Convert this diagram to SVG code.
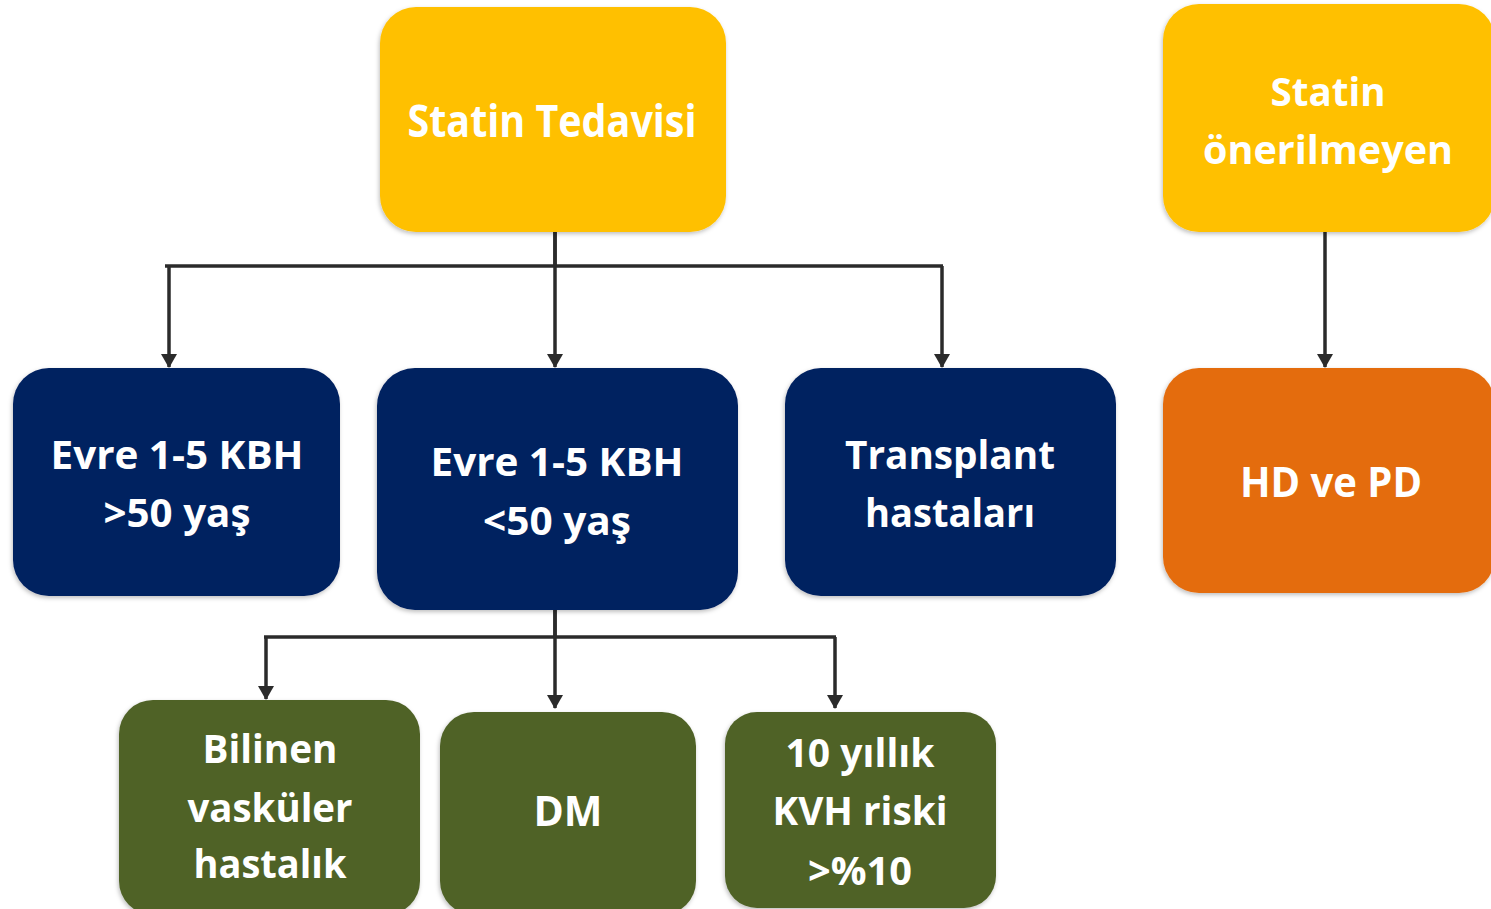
<svg xmlns="http://www.w3.org/2000/svg" width="1491" height="909" viewBox="0 0 1491 909">
<style>
.t{font-family:"Open Sans","Noto Sans","Liberation Sans",sans-serif;font-weight:bold;fill:#ffffff;text-anchor:middle}
.yel{fill:#FFC000}
.navy{fill:#002060}
.grn{fill:#4F6228}
.org{fill:#E46C0E}
.box{filter:url(#sh)}
.ln{stroke:#2b2b2b;stroke-width:3.5;fill:none}
</style>
<defs>
<filter id="sh" x="-5%" y="-5%" width="110%" height="110%">
<feDropShadow dx="-1" dy="2" stdDeviation="2" flood-color="#000" flood-opacity="0.25"/>
</filter>
<marker id="ah" viewBox="0 0 14 16" refX="13" refY="8" markerWidth="14" markerHeight="16" markerUnits="userSpaceOnUse" orient="auto">
<path d="M0,0 L14,8 L0,16 Z" fill="#2b2b2b"/>
</marker>
</defs>
<g id="connectors">
<path class="ln" d="M555,232 V266"/>
<path class="ln" d="M165,266 H943"/>
<path class="ln" d="M169,266 V367" marker-end="url(#ah)"/>
<path class="ln" d="M555,232 V367" marker-end="url(#ah)"/>
<path class="ln" d="M942,266 V367" marker-end="url(#ah)"/>
<path class="ln" d="M1325,232 V367" marker-end="url(#ah)"/>
<path class="ln" d="M555,610 V637"/>
<path class="ln" d="M264,637 H836"/>
<path class="ln" d="M266,637 V699" marker-end="url(#ah)"/>
<path class="ln" d="M555,610 V708" marker-end="url(#ah)"/>
<path class="ln" d="M835,637 V708" marker-end="url(#ah)"/>
</g>
<g id="n-statin">
<rect class="box yel" x="380" y="7" width="346" height="225" rx="36"/>
<text class="t" x="552" y="137" font-size="44" textLength="289" lengthAdjust="spacingAndGlyphs">Statin Tedavisi</text>
</g>
<g id="n-onerilmeyen">
<rect class="box yel" x="1163" y="4" width="332" height="228" rx="36"/>
<text class="t" x="1328" y="106" font-size="40" textLength="115" lengthAdjust="spacingAndGlyphs">Statin</text>
<text class="t" x="1328" y="164" font-size="40" textLength="250" lengthAdjust="spacingAndGlyphs">önerilmeyen</text>
</g>
<g id="n-evre50plus">
<rect class="box navy" x="13" y="368" width="327" height="228" rx="36"/>
<text class="t" x="177" y="469" font-size="40" textLength="253" lengthAdjust="spacingAndGlyphs">Evre 1-5 KBH</text>
<text class="t" x="177" y="527" font-size="40" textLength="147" lengthAdjust="spacingAndGlyphs">&gt;50 yaş</text>
</g>
<g id="n-evre50minus">
<rect class="box navy" x="377" y="368" width="361" height="242" rx="38"/>
<text class="t" x="557" y="476" font-size="40" textLength="253" lengthAdjust="spacingAndGlyphs">Evre 1-5 KBH</text>
<text class="t" x="557" y="535" font-size="40" textLength="148" lengthAdjust="spacingAndGlyphs">&lt;50 yaş</text>
</g>
<g id="n-transplant">
<rect class="box navy" x="785" y="368" width="331" height="228" rx="36"/>
<text class="t" x="950" y="469" font-size="40" textLength="210" lengthAdjust="spacingAndGlyphs">Transplant</text>
<text class="t" x="950" y="527" font-size="40" textLength="170" lengthAdjust="spacingAndGlyphs">hastaları</text>
</g>
<g id="n-hdpd">
<rect class="box org" x="1163" y="368" width="332" height="225" rx="36"/>
<text class="t" x="1331" y="497" font-size="42" textLength="182" lengthAdjust="spacingAndGlyphs">HD ve PD</text>
</g>
<g id="n-vaskuler">
<rect class="box grn" x="119" y="700" width="301" height="215" rx="34"/>
<text class="t" x="270" y="763" font-size="40" textLength="135" lengthAdjust="spacingAndGlyphs">Bilinen</text>
<text class="t" x="270" y="822" font-size="40" textLength="165" lengthAdjust="spacingAndGlyphs">vasküler</text>
<text class="t" x="270" y="878" font-size="40" textLength="153" lengthAdjust="spacingAndGlyphs">hastalık</text>
</g>
<g id="n-dm">
<rect class="box grn" x="440" y="712" width="256" height="203" rx="34"/>
<text class="t" x="568" y="826" font-size="42" textLength="69" lengthAdjust="spacingAndGlyphs">DM</text>
</g>
<g id="n-kvh">
<rect class="box grn" x="725" y="712" width="271" height="196" rx="32"/>
<text class="t" x="860" y="767" font-size="40" textLength="149" lengthAdjust="spacingAndGlyphs">10 yıllık</text>
<text class="t" x="860" y="825" font-size="40" textLength="175" lengthAdjust="spacingAndGlyphs">KVH riski</text>
<text class="t" x="860" y="885" font-size="40" textLength="104" lengthAdjust="spacingAndGlyphs">&gt;%10</text>
</g>
</svg>
